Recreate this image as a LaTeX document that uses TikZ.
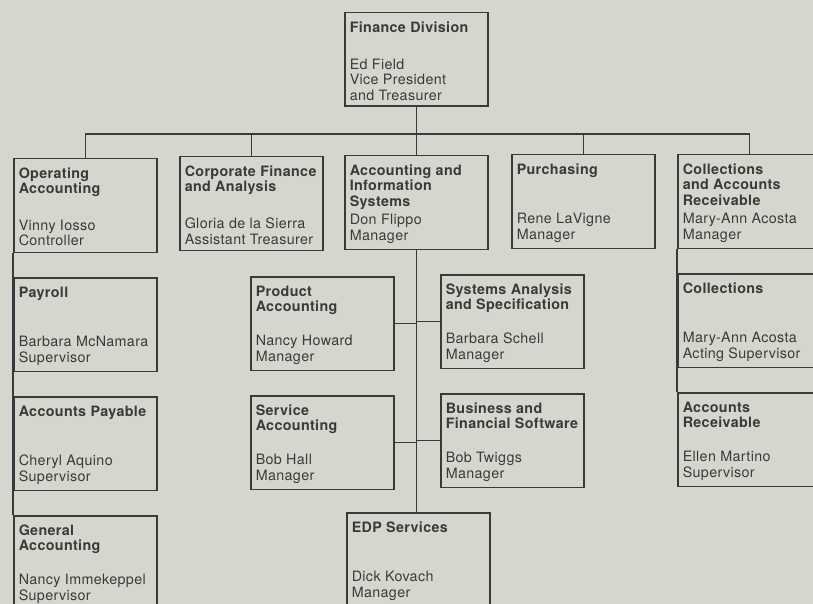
\documentclass[tikz,border=0pt]{standalone}
\usepackage{fontspec}
\setmainfont{TeX Gyre Heros}[LetterSpace=2.5]
\usepackage{xcolor}
\usetikzlibrary{positioning}
\definecolor{paper}{RGB}{214,214,207}
\definecolor{ink}{RGB}{58,58,58}

\begin{document}
\begin{tikzpicture}[x=1bp, y=-1bp, node distance={24bp}, line width=1.5bp,
        unit/.style = {draw=ink, rectangle, anchor=north west, inner xsep=5bp, inner ysep=9bp, text=ink,
            font=\fontsize{14.3bp}{15.5bp}\selectfont,
            execute at begin node={\begin{minipage}[c][75.5bp][s]{133bp}\raggedright},
            execute at end node={\endgraf\vspace*{-3bp}\end{minipage}}}]
        \useasboundingbox (0,0) rectangle (813,604);
        \clip (0,0) rectangle (813,604);
        \fill[paper] (0,0) rectangle (813,604);

        \node[unit] (fin) at (344,12) {\textbf{Finance Division}\par\vfill Ed Field\\ Vice President\\ and Treasurer};

        \node[unit] (oa) at (13,158) {\textbf{Operating\\ Accounting}\par\vfill Vinny Iosso\\ Controller};
        \node[unit] (cf) at (179,156) {\textbf{Corporate Finance\\ and Analysis}\par\vfill Gloria de la Sierra\\ Assistant Treasurer};
        \node[unit] (ais) at (344,155) {\textbf{Accounting and\\ Information\\ Systems}\par\vfill Don Flippo\\ Manager};
        \node[unit] (pur) at (511,154) {\textbf{Purchasing}\par\vfill Rene LaVigne\\ Manager};
        \node[unit] (coll) at (677,154) {\textbf{Collections\\ and Accounts\\ Receivable}\par\vfill Mary-Ann Acosta\\ Manager};

        \node[unit] (payroll) [below = of oa] {\textbf{Payroll}\par\vfill Barbara~McNamara\\ Supervisor};
        \node[unit] (ap) [below = of payroll] {\textbf{Accounts Payable}\par\vfill Cheryl Aquino\\ Supervisor};
        \node[unit] (ga) [below = of ap] {\textbf{General\\ Accounting}\par\vfill Nancy~Immekeppel\\ Supervisor};

        \node[unit] (pa) at (250,276) {\textbf{Product\\ Accounting}\par\vfill Nancy Howard\\ Manager};
        \node[unit] (sva) [below = of pa] {\textbf{Service\\ Accounting}\par\vfill Bob Hall\\ Manager};
        \node[unit] (sa) at (440,274) {\textbf{Systems Analysis\\ and Specification}\par\vfill Barbara Schell\\ Manager};
        \node[unit] (bfs) [below = of sa] {\textbf{Business and\\ Financial~Software}\par\vfill Bob Twiggs\\ Manager};
        \node[unit] (edp) at (346,512) {\textbf{EDP Services}\par\vfill Dick Kovach\\ Manager};

        \node[unit] (coll2) [below = of coll] {\textbf{Collections}\par\vfill Mary-Ann Acosta\\ Acting Supervisor};
        \node[unit] (ar) [below = of coll2] {\textbf{Accounts\\ Receivable}\par\vfill Ellen Martino\\ Supervisor};

        % lines
        \coordinate (bus) at (416,134);
        \draw[ink] (fin) -- (ais);
        \draw[ink] (oa) |- (bus) -| (coll);
        \draw[ink] (cf) -- (cf |- bus);
        \draw[ink] (pur) -- (pur |- bus);
        \draw[ink] (ais.south) -- (ais.south |- edp.north);
        \draw[ink] (pa) -- (pa -| ais);
        \draw[ink] (sva) -- (sva -| ais);
        \draw[ink] (sa) -- (sa -| ais);
        \draw[ink] (bfs) -- (bfs -| ais);
        \draw[ink] (oa.south west) -- (ga.north west);
        \draw[ink] (coll.south west) -- (ar.north west);

    \end{tikzpicture}
\end{document}
